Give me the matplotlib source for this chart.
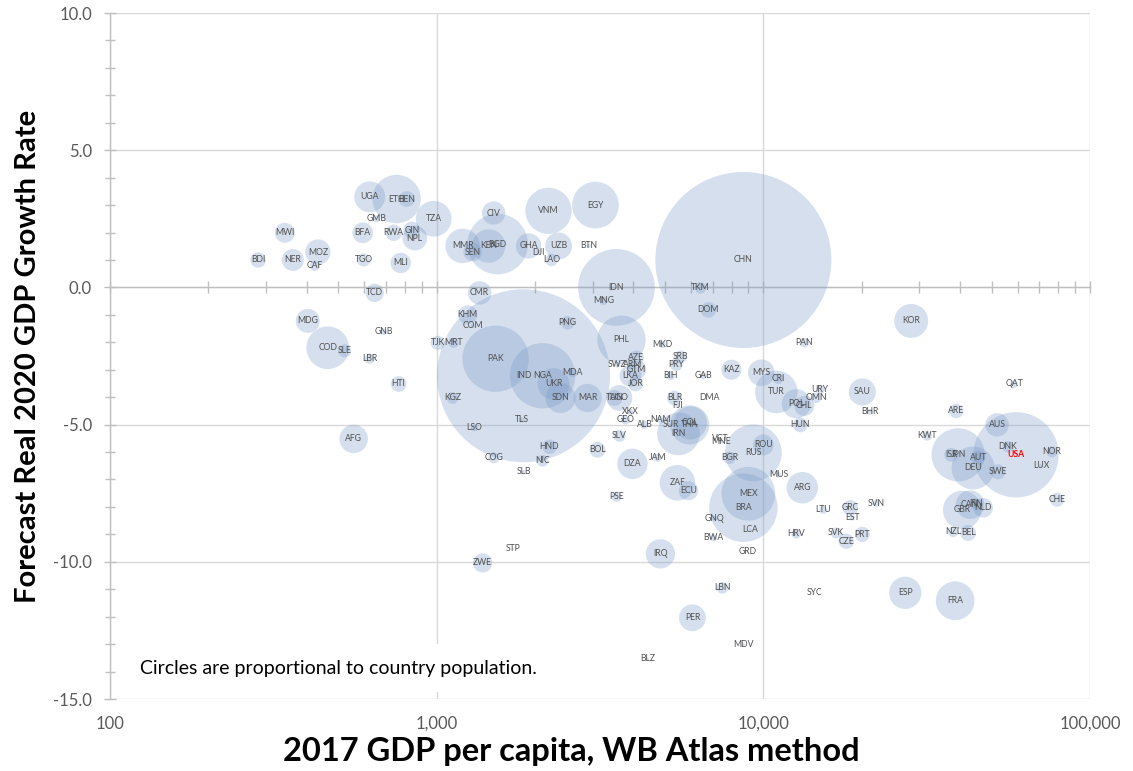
import matplotlib
matplotlib.use("Agg")
import matplotlib.pyplot as plt
import matplotlib.transforms as mtransforms
from matplotlib.ticker import LogLocator, NullFormatter, FixedLocator
import numpy as np

plt.rcParams['font.family'] = ['Lato', 'DejaVu Sans']
plt.rcParams['axes.unicode_minus'] = False

# ---- data ----
codes = ["BDI","NER","CAF","MOZ","MWI","BFA","GMB","UGA","ETH","BEN","RWA","GIN","NPL","TGO","MLI","TZA",
         "TCD","MDG","GNB","COD","SLE","LBR","HTI","AFG","KGZ","TJK","MRT","KHM","COM","CMR","MMR","SEN",
         "KEN","BGD","CIV","VNM","EGY","GHA","DJI","UZB","LAO","BTN","IDN","MNG","PNG","PHL","PAK","IND",
         "NGA","UKR","MDA","SDN","MAR","TUN","AGO","LSO","TLS","HND","COG","NIC","SLB","BOL","DZA","JAM",
         "PSE","SLV","GEO","XKX","ALB","NAM","SUR","COL","THA","IRN","FJI","BLR","DMA","SWZ","ARM","AZE",
         "GTM","LKA","JOR","BIH","GAB","PRY","SRB","MKD","KAZ","MYS","CRI","TUR","POL","CHL","URY","OMN",
         "HUN","PAN","SAU","BHR","KOR","ARE","QAT","KWT","AUS","ISR","JPN","AUT","DEU","DNK","USA","NOR",
         "LUX","SWE","CHE","GBR","CAN","FIN","NLD","NZL","BEL","VCT","MNE","ROU","RUS","BGR","MUS","ARG",
         "MEX","BRA","ZAF","ECU","GNQ","LCA","BWA","GRD","LTU","GRC","EST","SVN","HRV","SVK","CZE","PRT",
         "IRQ","STP","ZWE","LBN","SYC","ESP","FRA","PER","MDV","BLZ","DOM","TKM","CHN"]

gdp_pc = [284, 363, 424, 433, 343, 594, 655, 624, 754, 810, 739, 839, 857, 598, 776, 979,
          646, 403, 688, 464, 523, 624, 765, 557, 1119, 1007, 1127, 1244, 1289, 1354, 1201, 1289,
          1442, 1537, 1494, 2200, 3063, 1911, 2051, 2361, 2247, 2916, 3552, 3241, 2516, 3679, 1515, 1845,
          2110, 2279, 2606, 2395, 2896, 3502, 3627, 1307, 1820, 2215, 1494, 2110, 1845, 3107, 3975, 4740,
          3552, 3627, 3784, 3920, 4325, 4842, 5195, 5982, 5950, 5496, 5458, 5342, 6839, 3577, 3975, 4089,
          4089, 3920, 4061, 5195, 6554, 5420, 5576, 4911, 7983, 9860, 11114, 10960, 12617, 13350, 14940, 14520,
          12977, 13350, 20090, 21240, 28360, 38930, 58560, 31730, 51940, 37580, 39480, 45440, 43870, 56140, 59380, 76510,
          70800, 52310, 79270, 40610, 42950, 44810, 47080, 38110, 42360, 7388, 7440, 10000, 9320, 7870, 11114, 13160,
          8999, 8687, 5458, 5897, 7084, 9126, 7034, 8937, 15260, 18450, 18720, 22160, 12617, 16720, 17940, 20090,
          4842, 1708, 1383, 7491, 14320, 27190, 38660, 6067, 8687, 4418, 6790, 6418, 8687]

growth = [1.0, 1.0, 0.78, 1.29, 1.99, 1.99, 2.5, 3.3, 3.22, 3.22, 1.99, 2.09, 1.80, 1.0, 0.89, 2.5,
          -0.2, -1.22, -1.62, -2.2, -2.31, -2.6, -3.52, -5.52, -4.03, -2.02, -2.02, -1.0, -1.4, -0.2, 1.51, 1.29,
          1.51, 1.58, 2.71, 2.79, 3.0, 1.51, 1.29, 1.51, 1.0, 1.51, 0.0, -0.49, -1.29, -1.91, -2.6, -3.22,
          -3.22, -3.52, -3.11, -4.03, -4.03, -4.03, -4.03, -5.12, -4.83, -5.81, -6.21, -6.32, -6.72, -5.92, -6.43, -6.21,
          -7.63, -5.41, -4.83, -4.54, -5.01, -4.83, -5.01, -4.94, -5.01, -5.34, -4.32, -4.03, -4.03, -2.82, -2.82, -2.57,
          -3.0, -3.22, -3.52, -3.22, -3.22, -2.82, -2.53, -2.09, -3.0, -3.11, -3.33, -3.81, -4.24, -4.32, -3.73, -4.03,
          -5.01, -2.02, -3.81, -4.54, -1.22, -4.5, -3.52, -5.41, -5.01, -6.1, -6.1, -6.21, -6.58, -5.81, -6.1, -5.99,
          -6.5, -6.72, -7.74, -8.11, -7.92, -7.89, -8.03, -8.91, -8.95, -5.52, -5.63, -5.74, -6.03, -6.21, -6.83, -7.3,
          -7.52, -8.03, -7.12, -7.41, -8.43, -8.83, -9.13, -9.64, -8.11, -8.03, -8.4, -7.87, -8.98, -8.95, -9.25, -9.0,
          -9.71, -9.53, -10.04, -10.95, -11.13, -11.13, -11.42, -12.04, -13.02, -13.53, -0.82, -0.02, 1.0]

population_m = [10.8, 21.5, 4.6, 28.6, 17.7, 19.2, 2.2, 42.9, 105.0, 11.2, 12.2, 12.7, 27.6, 7.8, 18.5, 57.3,
                15.0, 25.6, 1.9, 81.3, 7.5, 4.7, 11.0, 36.3, 6.2, 8.9, 4.4, 16.0, 0.8, 24.6, 53.4, 15.4,
                50.2, 164.7, 24.3, 95.5, 97.6, 28.8, 0.96, 32.4, 6.9, 0.8, 264.0, 3.1, 8.3, 105.0, 197.0, 1339.0,
                191.0, 44.8, 3.5, 40.5, 35.7, 11.5, 29.8, 2.2, 1.3, 9.3, 5.3, 6.2, 0.6, 11.1, 41.3, 2.9,
                4.7, 6.4, 3.7, 1.8, 2.9, 2.5, 0.56, 49.1, 69.0, 81.2, 0.9, 9.5, 0.07, 1.4, 2.9, 9.9,
                16.9, 21.4, 9.7, 3.5, 2.0, 6.8, 7.0, 2.1, 18.0, 31.6, 4.9, 80.7, 38.0, 18.1, 3.5, 4.6,
                9.8, 4.1, 32.9, 1.5, 51.5, 9.4, 2.6, 4.1, 24.6, 8.7, 126.8, 8.8, 82.7, 5.8, 325.7, 5.3,
                0.6, 10.1, 8.5, 66.0, 36.7, 5.5, 17.1, 4.8, 11.4, 0.11, 0.62, 19.6, 144.5, 7.1, 1.3, 44.3,
                129.2, 209.3, 56.7, 16.6, 1.3, 0.18, 2.3, 0.11, 2.8, 10.8, 1.3, 2.1, 4.1, 5.4, 10.6, 10.3,
                38.3, 0.2, 16.5, 6.1, 0.1, 46.6, 67.1, 32.2, 0.44, 0.37, 10.8, 5.8, 1386.0]

y_ticks = [10, 5, 0, -5, -10, -15]
y_tick_labels = ["10.0", "5.0", "0.0", "-5.0", "-10.0", "-15.0"]
x_ticks = [100, 1000, 10000, 100000]
x_tick_labels = ["100", "1,000", "10,000", "100,000"]

# ---- figure ----
W, H = 1133, 771
fig = plt.figure(figsize=(W / 100, H / 100), dpi=100)
ax = fig.add_axes([110 / W, 1 - 699 / H, (1090 - 110) / W, (699 - 13) / H])

ax.set_xscale('log')
ax.set_xlim(100, 100000)
ax.set_ylim(-15, 10)

# bubble area proportional to population; China radius ~88 px
pop = np.array(population_m)
r_px_max = 88.0
d_pt = 2 * r_px_max * 0.72 * np.sqrt(pop / pop.max())
sizes = d_pt ** 2
ax.scatter(gdp_pc, growth, s=sizes, color=(118 / 255, 152 / 255, 198 / 255), alpha=0.3,
           linewidths=0, zorder=3)

for c, xv, yv in zip(codes, gdp_pc, growth):
    if c == "USA":
        ax.text(xv, yv, c, fontsize=6.2, color='#FF0000', fontweight='bold',
                ha='center', va='center', zorder=5)
    else:
        ax.text(xv, yv, c, fontsize=6.2, color='#505050',
                ha='center', va='center', zorder=5)

# grid
grid_c = '#D9D9D9'
ax.set_yticks(y_ticks)
ax.set_yticklabels(y_tick_labels)
ax.yaxis.set_minor_locator(FixedLocator(np.arange(-15, 10.01, 1)))
ax.set_xticks(x_ticks)
ax.xaxis.set_minor_locator(LogLocator(base=10, subs=np.arange(2, 10)))
ax.xaxis.set_minor_formatter(NullFormatter())
ax.grid(True, which='major', color=grid_c, linewidth=1.0, zorder=0)
ax.set_axisbelow(True)

for sp in ['top', 'right']:
    ax.spines[sp].set_visible(False)
ax.spines['left'].set_color('#BFBFBF')
ax.spines['left'].set_linewidth(1.0)
ax.spines['bottom'].set_position(('data', 0))
ax.spines['bottom'].set_color('#BFBFBF')
ax.spines['bottom'].set_linewidth(1.0)

ax.tick_params(axis='y', which='both', direction='inout', color='#BFBFBF', width=1.0)
ax.tick_params(axis='y', which='major', length=8, labelsize=12, labelcolor='#595959', pad=9)
ax.tick_params(axis='y', which='minor', length=7)
ax.tick_params(axis='x', which='both', direction='inout', color='#BFBFBF', width=1.0,
               labelbottom=False, length=8)

# x tick labels placed below the plot area
trans = mtransforms.blended_transform_factory(ax.transData, ax.transAxes)
for xv, lab in zip(x_ticks, x_tick_labels):
    ax.text(xv, -0.036, lab, transform=trans, ha='center', va='center',
            fontsize=12, color='#595959', clip_on=False)

# axis titles
fig.text(571 / W, 1 - 752 / H, "2017 GDP per capita, WB Atlas method", ha='center', va='center',
         fontsize=23.5, fontweight='bold', color='black')
fig.text(28 / W, 1 - 356 / H, "Forecast Real 2020 GDP Growth Rate", ha='center', va='center',
         rotation=90, fontsize=21, fontweight='bold', color='black')

# note box
ax.text(0.0306, 0.045, "Circles are proportional to country population.", transform=ax.transAxes,
        ha='left', va='center', fontsize=14, color='black', zorder=6,
        bbox=dict(boxstyle='square,pad=0.8', facecolor='white', edgecolor='none'))

fig.savefig("out.png", dpi=100)
